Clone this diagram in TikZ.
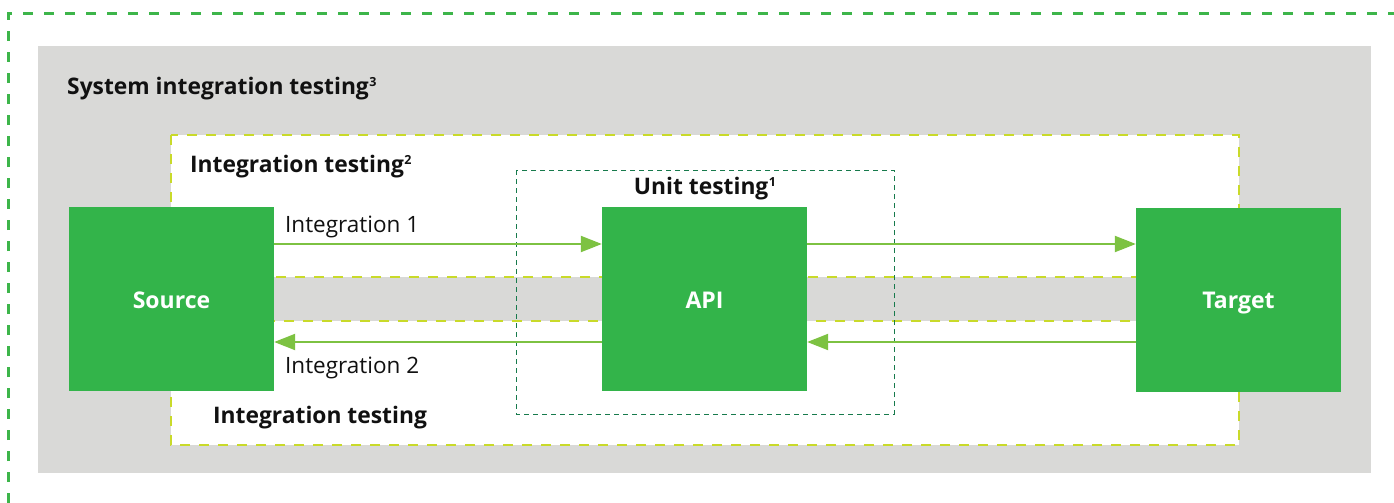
\documentclass[tikz,border=0pt]{standalone}
\usepackage{fontspec}
\setmainfont{Open Sans}
\usetikzlibrary{arrows.meta}

\definecolor{boxgreen}{HTML}{33B44A}
\definecolor{arrowgreen}{HTML}{7DC242}
\definecolor{panelgray}{HTML}{D9D9D7}
\definecolor{limedash}{HTML}{C9DA2A}
\definecolor{outergreen}{HTML}{3DB54A}
\definecolor{unitgreen}{HTML}{177A4C}
\definecolor{inkblack}{HTML}{111111}

% small raised footnote marker
\newcommand{\fnmark}[1]{\kern0.5pt\raisebox{7.5pt}{\fontsize{12.5}{14}\selectfont\bfseries #1}}

\tikzset{
  component/.style={fill=boxgreen, draw=none, minimum width=205pt, minimum height=184pt,
    inner sep=0pt, text height=18pt, text depth=0pt, text=white,
    font=\fontsize{23}{27}\selectfont\bfseries},
  flow/.style={draw=arrowgreen, line width=2.2pt, -{Triangle[length=21pt,width=16pt]}},
  zonebox/.style={fill=white, draw=limedash, line width=2.5pt, dash pattern=on 10pt off 9pt},
  heading/.style={anchor=base west, inner sep=0pt, text=inkblack, font=\fontsize{22.8}{27}\selectfont\bfseries},
  flowlabel/.style={anchor=base west, inner sep=0pt, text=inkblack, font=\fontsize{22.5}{27}\selectfont}
}

\begin{document}
\begin{tikzpicture}[x=1pt, y=-1pt]
  \useasboundingbox (0,0) rectangle (1394,503);

  % outer system boundary (continues past the page edge)
  \draw[outergreen, line width=2.5pt, dash pattern=on 10pt off 11pt]
    (8.5,503) -- (8.5,13.5) -- (1394,13.5);

  % system integration panel
  \fill[panelgray] (38,46) rectangle (1371,473);
  \node[heading] (sysit) at (67,94) {System integration testing\fnmark{3}};

  % integration testing zones
  \draw[zonebox] (171,135) rectangle (1239,277);
  \draw[zonebox] (171,321) rectangle (1239,445);
  \node[heading] (it2) at (190,172) {Integration testing\fnmark{2}};
  \node[heading] (itb) at (213,423) {Integration testing};

  % unit testing boundary
  \draw[unitgreen, line width=1pt, dash pattern=on 5pt off 4pt] (516,170) rectangle (894,414);
  \node[heading, anchor=base] (unit) at (705,194) {Unit testing\fnmark{1}};

  % components
  \node[component] (source) at (171.5,299) {Source};
  \node[component] (api)    at (704.5,299) {API};
  \node[component] (target) at (1238.5,299.5) {Target};

  % data flows
  \draw[flow] (source.east |- 0,244) -- (api.west |- 0,244);
  \draw[flow] (api.east |- 0,244) -- (target.west |- 0,244);
  \draw[flow] (target.west |- 0,342) -- (api.east |- 0,342);
  \draw[flow] (api.west |- 0,342) -- (source.east |- 0,342);

  \node[flowlabel] (int1) at (285,232) {Integration 1};
  \node[flowlabel] (int2) at (285,373) {Integration 2};
\end{tikzpicture}
\end{document}
